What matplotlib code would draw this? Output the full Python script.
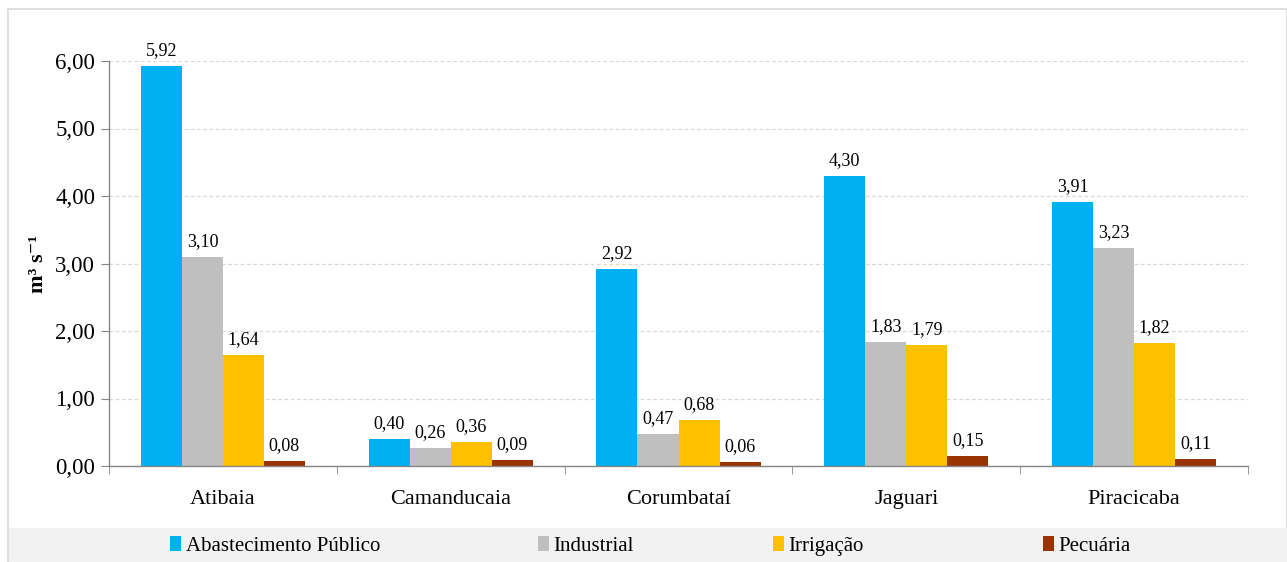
import matplotlib
matplotlib.use("Agg")
import matplotlib.pyplot as plt
import numpy as np
from matplotlib.patches import Rectangle
from matplotlib.ticker import FuncFormatter, FixedLocator

plt.rcParams["font.family"] = "serif"
plt.rcParams["font.serif"] = ["Liberation Serif", "DejaVu Serif"]

# --- data ---
categories = ["Atibaia", "Camanducaia", "Corumbataí", "Jaguari", "Piracicaba"]
series_names = ["Abastecimento Público", "Industrial", "Irrigação", "Pecuária"]
abastecimento = [5.92, 0.40, 2.92, 4.30, 3.91]
industrial = [3.10, 0.26, 0.47, 1.83, 3.23]
irrigacao = [1.64, 0.36, 0.68, 1.79, 1.82]
pecuaria = [0.08, 0.09, 0.06, 0.15, 0.11]
colors = ["#00B0F0", "#BFBFBF", "#FFC000", "#993300"]


def br(v):
    return f"{v:.2f}".replace(".", ",")


fig = plt.figure(figsize=(12.87, 5.62), dpi=100)

# outer frame and legend band
fig.patches.append(Rectangle((8 / 1287, 0), 1 - 8 / 1287, 1 - 8 / 562 - 0.002,
                             transform=fig.transFigure, facecolor="white",
                             edgecolor="#D9D9D9", linewidth=1.2, zorder=-2))
fig.patches.append(Rectangle((9 / 1287, 0), 1 - 9 / 1287, (562 - 528) / 562,
                             transform=fig.transFigure, facecolor="#F2F2F2",
                             edgecolor="none", zorder=-1))

ax = fig.add_axes([109 / 1287, 1 - 466 / 562, (1248 - 109) / 1287, (466 - 61) / 562])
ax.set_facecolor("none")
ax.set_zorder(2)

x = np.arange(len(categories))
width = 0.18
all_series = [abastecimento, industrial, irrigacao, pecuaria]
bars = []
for i, (vals, name, c) in enumerate(zip(all_series, series_names, colors)):
    b = ax.bar(x + (i - 1.5) * width, vals, width, color=c, label=name, zorder=2)
    bars.append(b)
    for rect, v in zip(b, vals):
        ax.annotate(br(v), (rect.get_x() + rect.get_width() / 2, v),
                    xytext=(0, 5), textcoords="offset points",
                    ha="center", va="bottom", fontsize=13)

ax.set_xlim(-0.5, len(categories) - 0.5)
ax.set_ylim(0, 6)
ax.yaxis.set_major_locator(FixedLocator(np.arange(0, 7, 1)))
ax.yaxis.set_major_formatter(FuncFormatter(lambda v, p: br(v)))
ax.grid(axis="y", color="#D9D9D9", linestyle=(0, (3, 2)), linewidth=0.9, zorder=0)

ax.set_xticks(x)
ax.set_xticklabels(categories, fontsize=16)
ax.xaxis.set_minor_locator(FixedLocator(np.arange(-0.5, len(categories), 1)))
ax.tick_params(axis="x", which="major", length=0, pad=17)
ax.tick_params(axis="x", which="minor", length=6, color="#868686", direction="out")
ax.tick_params(axis="y", length=6, color="#868686", direction="out", labelsize=16.5, pad=4)

for s in ["top", "right"]:
    ax.spines[s].set_visible(False)
for s in ["left", "bottom"]:
    ax.spines[s].set_color("#868686")
    ax.spines[s].set_linewidth(1.0)

ax.set_ylabel("m³ s⁻¹", fontsize=16, fontweight="bold", labelpad=5,
              family=["Liberation Serif", "DejaVu Serif"])

# legend entries placed one by one, like the spreadsheet legend
legend_x = [170, 538, 773, 1043]
for b, name, lx in zip(bars, series_names, legend_x):
    fig.legend(handles=[b], labels=[name], loc="center left",
               bbox_to_anchor=(lx / 1287, 1 - 546 / 562), frameon=False,
               prop={"size": 15}, handlelength=0.55, handleheight=0.75, handletextpad=0.2,
               borderpad=0, borderaxespad=0)

fig.savefig("out.png", dpi=100)
